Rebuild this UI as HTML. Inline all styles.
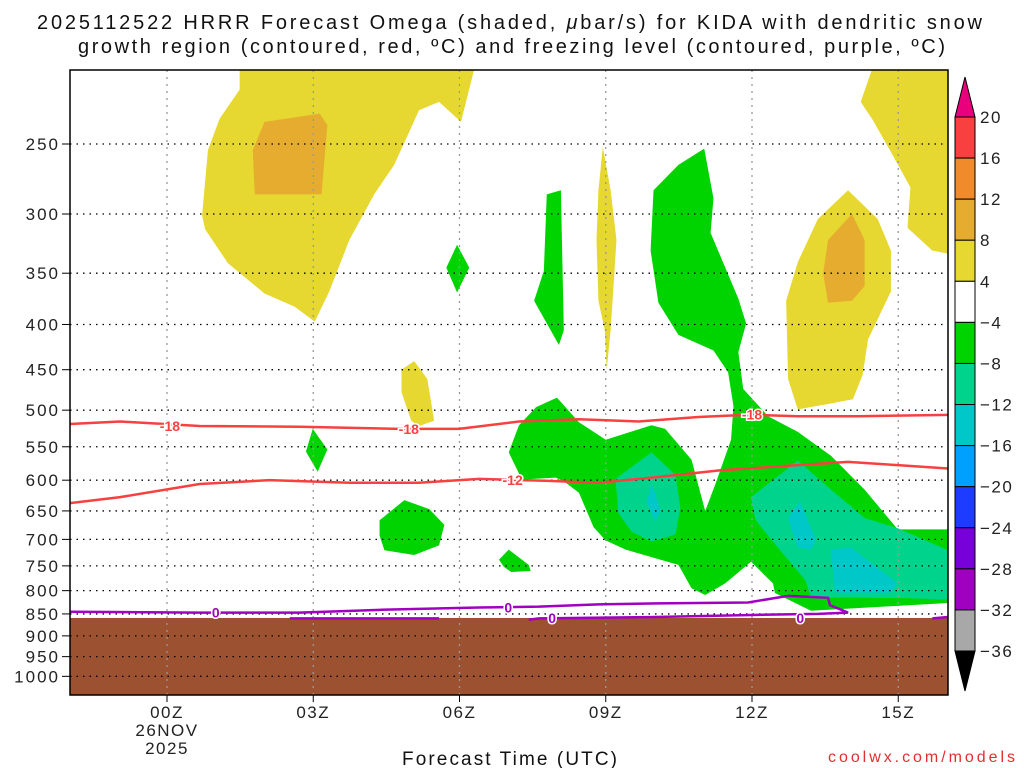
<!DOCTYPE html>
<html><head><meta charset="utf-8"><style>
body{margin:0;background:#fff;}
svg{display:block;font-family:"Liberation Sans",sans-serif;}
</style></head><body>
<svg id="chart" width="1024" height="768" viewBox="0 0 1024 768" xmlns="http://www.w3.org/2000/svg">
<text x="37" y="29" font-size="20" textLength="945" lengthAdjust="spacing" fill="#111">2025112522 HRRR Forecast Omega (shaded, <tspan font-style="italic">μ</tspan>bar/s) for KIDA with dendritic snow</text>
<text x="78" y="53" font-size="20" textLength="867" lengthAdjust="spacing" fill="#111">growth region (contoured, red, ºC) and freezing level (contoured, purple, ºC)</text>
<defs><clipPath id="plotclip"><rect x="70" y="70" width="878" height="625"/></clipPath></defs>
<g id="fills" clip-path="url(#plotclip)"></g>
<g id="grid"></g>
<g id="lines" clip-path="url(#plotclip)"></g>
<rect x="70" y="70" width="878" height="625" fill="none" stroke="#000" stroke-width="1.5"/>
<g id="axes"></g>
<g id="cbar"></g>
<text x="402" y="765" font-size="19" textLength="215" lengthAdjust="spacing" fill="#111">Forecast Time (UTC)</text>
<text x="828" y="762" font-size="16" textLength="187" lengthAdjust="spacing" fill="#e03030">coolwx.com/models</text>
</svg>
<script>
const pressureTicks=[250,300,350,400,450,500,550,600,650,700,750,800,850,900,950,1000];
const hourTicks=[0,3,6,9,12,15];
const hourLabels=["00Z","03Z","06Z","09Z","12Z","15Z"];
const cbarLevels=[20,16,12,8,4,-4,-8,-12,-16,-20,-24,-28,-32,-36];
const cbarColors=["#f84040","#f08a2a","#e6ac30","#e6d830","#ffffff","#00d400","#00d48c","#00c8c8","#00a0ff","#1e3cff","#7800d8","#a000c0","#a8a8a8"];
const yellowA=[[1.49,206],[6.30,206],[6.03,236],[5.58,224],[5.17,229],[4.66,264],[4.25,285],[3.74,321],[3.33,367],[3.03,397],[2.62,382],[2.00,369],[1.25,341],[0.78,312],[0.72,301],[0.84,254],[1.08,234],[1.49,217]];
const goldA=[[2.00,236],[3.13,231],[3.29,238],[3.17,285],[1.80,285],[1.76,254]];
const yellowB=[[14.54,200],[16.2,200],[16.2,334],[15.70,330],[15.19,311],[15.25,280],[14.88,257],[14.48,235],[14.23,224]];
const yellowC=[[13.97,282],[14.58,304],[14.85,330],[14.85,367],[14.38,416],[14.27,456],[14.07,486],[13.56,492],[12.94,499],[12.74,461],[12.70,376],[12.94,340],[13.35,304]];
const goldC=[[14.05,300],[14.31,321],[14.31,362],[14.05,376],[13.56,378],[13.46,350],[13.56,321]];
const yellowD=[[8.94,252],[9.10,282],[9.22,321],[9.14,376],[9.10,406],[9.02,450],[8.98,406],[8.85,376],[8.81,321],[8.85,282]];
const yellowE=[[4.81,450],[5.07,440],[5.34,461],[5.48,514],[5.17,521],[5.01,514],[4.81,477]];
const greenA=[[5.95,325],[6.20,345],[5.95,368],[5.73,345]];
const greenB=[[2.99,525],[3.29,554],[3.09,587],[2.85,557]];
const greenC=[[4.36,666],[4.87,632],[5.38,647],[5.69,674],[5.58,711],[5.07,729],[4.46,720],[4.36,693]];
const greenD=[[6.81,738],[7.01,719],[7.42,748],[7.46,760],[7.06,762],[6.91,752]];
const greenE=[[7.79,285],[8.08,282],[8.14,406],[8.04,422],[7.53,376],[7.73,348]];
const greenMain=[[9.98,282],[10.49,264],[11.02,253],[11.21,288],[11.15,315],[11.72,374],[11.88,399],[11.72,430],[11.82,473],[12.33,508],[12.94,529],[13.62,563],[14.31,615],[14.99,682],[16.2,682],[16.2,825],[13.21,843],[12.47,805],[12.43,785],[11.98,742],[11.45,785],[11.04,809],[10.76,795],[10.49,748],[9.41,719],[9.00,702],[8.75,678],[8.45,620],[8.18,604],[7.98,596],[7.28,599],[7.01,558],[7.22,520],[7.57,496],[8.00,484],[8.45,516],[9.00,540],[9.94,520],[10.22,525],[10.76,569],[11.04,650],[11.25,606],[11.57,540],[11.62,495],[11.51,453],[11.21,428],[10.49,411],[10.08,378],[9.92,330]];
const tealA=[[9.20,598],[9.94,558],[10.43,592],[10.53,645],[10.43,691],[9.94,704],[9.53,686],[9.26,654]];
const cyanA=[[9.94,605],[10.12,647],[10.02,669],[9.84,635]];
const tealB=[[11.98,627],[12.94,570],[13.62,615],[14.31,662],[14.99,680],[16.2,727],[16.2,820],[15.26,816],[13.21,814],[13.09,778],[12.39,700],[12.07,665]];
const cyanB1=[[12.74,662],[12.98,634],[13.31,700],[13.21,719],[12.94,715]];
const cyanB2=[[13.62,719],[14.03,715],[14.99,785],[14.85,804],[13.70,804]];
const lineM18=[[-2.2,519],[-0.96,515],[0.67,521],[2.72,522],[4.76,525],[5.99,525],[7.22,515],[8.45,512],[9.67,515],[10.90,509],[11.92,506],[12.94,508],[14.17,508],[16.2,506]];
const lineM12=[[-2.2,639],[-0.96,627],[0.67,606],[2.10,600],[3.74,604],[5.17,604],[6.40,598],[7.83,601],[8.85,604],[10.08,595],[11.31,585],[12.94,577],[13.97,572],[14.99,577],[16.2,583]];
const line0a=[[-2.2,845],[0.67,847],[2.72,847],[4.36,841],[6.40,836],[7.63,834],[8.85,829],[10.08,827],[11.92,825],[12.74,811],[13.56,815],[13.60,831],[13.97,847],[13.35,850],[12.12,852],[9.88,857],[7.63,860],[7.42,863]];
const line0b=[[2.52,860],[5.58,860]];
const line0c=[[15.70,860],[16.2,855]];
const labM18=[[0.06,521],[4.96,525],[12.0,506]];
const labM12=[[7.09,600]];
const lab0=[[1.0,847],[7.0,836],[7.9,859],[12.99,859]];
const groundTop=859;

const NS="http://www.w3.org/2000/svg";
const X=h=>167+h*48.75;
const Y=p=>144+384*Math.log(p/250);
function mk(tag,attrs,parent){const e=document.createElementNS(NS,tag);for(const k in attrs)e.setAttribute(k,attrs[k]);parent.appendChild(e);return e;}
const fills=document.getElementById('fills');
const poly=(pts,color,name)=>{const e=mk('polygon',{points:pts.map(q=>X(q[0])+','+Y(q[1])).join(' '),fill:color},fills);

};
[[yellowA,"#e6d830","yellow-region-a"],[goldA,"#e6ac30","gold-region-a"],[yellowB,"#e6d830","yellow-region-b"],[yellowC,"#e6d830","yellow-region-c"],[goldC,"#e6ac30","gold-region-c"],[yellowD,"#e6d830","yellow-region-d"],[yellowE,"#e6d830","yellow-region-e"],
 [greenA,"#00d400","green-region-a"],[greenB,"#00d400","green-region-b"],[greenC,"#00d400","green-region-c"],[greenD,"#00d400","green-region-d"],[greenE,"#00d400","green-region-e"],[greenMain,"#00d400","green-region-main"],
 [tealA,"#00d48c","teal-region-a"],[cyanA,"#00c8c8","cyan-region-a"],[tealB,"#00d48c","teal-region-b"],[cyanB1,"#00c8c8","cyan-region-b1"],[cyanB2,"#00c8c8","cyan-region-b2"]].forEach(a=>poly(a[0],a[1],a[2]));
const g=mk('rect',{x:70,y:Y(groundTop),width:878,height:695-Y(groundTop),fill:"#9c5230"},fills);



const grid=document.getElementById('grid'), axes=document.getElementById('axes');
pressureTicks.forEach(p=>{
  const l=mk('line',{x1:70,x2:948,y1:Y(p),y2:Y(p),stroke:"#000","stroke-dasharray":"1.5 5","stroke-width":1.3},grid);
  
  
  mk('line',{x1:62,x2:70,y1:Y(p),y2:Y(p),stroke:"#000"},axes);
  const t=mk('text',{x:60,y:Y(p)+6,"font-size":17,"letter-spacing":2,"text-anchor":"end",fill:"#222"},axes);t.textContent=p;
  
  
});
hourTicks.forEach((h,i)=>{
  const l=mk('line',{x1:X(h),x2:X(h),y1:70,y2:695,stroke:"#999","stroke-dasharray":"2 5","stroke-width":1.3},grid);
  
  
  mk('line',{x1:X(h),x2:X(h),y1:695,y2:702,stroke:"#000"},axes);
  const t=mk('text',{x:X(h),y:718,"font-size":17,"letter-spacing":1.5,"text-anchor":"middle",fill:"#222"},axes);t.textContent=hourLabels[i];
  
  
});
[["26NOV",736],["2025",754]].forEach(a=>{const t=mk('text',{x:X(0),y:a[1],"font-size":17,"letter-spacing":1.5,"text-anchor":"middle",fill:"#222"},axes);t.textContent=a[0];

});

const lines=document.getElementById('lines');
const pl=(pts,color,name)=>{const e=mk('polyline',{points:pts.map(q=>X(q[0])+','+Y(q[1])).join(' '),fill:"none",stroke:color,"stroke-width":2.5},lines);

};
pl(lineM18,"#f84040","contour-minus18");pl(lineM12,"#f84040","contour-minus12");
pl(line0a,"#a000c0","freezing-level-a");pl(line0b,"#a000c0","freezing-level-b");pl(line0c,"#a000c0","freezing-level-c");
const lab=(arr,txt,color)=>arr.forEach(q=>{
  const t=mk('text',{x:X(q[0]),y:Y(q[1])+5,"font-size":14,"font-weight":"bold","text-anchor":"middle",fill:color,stroke:"#fff","stroke-width":3,"paint-order":"stroke"},lines);t.textContent=txt;
  
  });
lab(labM18,"-18","#f84040");lab(labM12,"-12","#f84040");lab(lab0,"0","#a000c0");

const cb=document.getElementById('cbar');const cbTop=117,bh=534/13,cx=955,cw=20;
mk('polygon',{points:`${cx},${cbTop} ${cx+cw},${cbTop} ${cx+cw/2},${cbTop-40}`,fill:"#e8007c",stroke:"#000"},cb);
cbarColors.forEach((c,i)=>{const r=mk('rect',{x:cx,y:cbTop+i*bh,width:cw,height:bh,fill:c,stroke:"#000"},cb);

});
const cbBot=cbTop+13*bh;
mk('polygon',{points:`${cx},${cbBot} ${cx+cw},${cbBot} ${cx+cw/2},${cbBot+40}`,fill:"#000",stroke:"#000"},cb);
cbarLevels.forEach((v,i)=>{const t=mk('text',{x:cx+cw+5,y:cbTop+i*bh+6,"font-size":17,"letter-spacing":1.5,fill:"#222"},cb);t.textContent=v<0?"\u2212"+(-v):v;

});
</script>
</body></html>
